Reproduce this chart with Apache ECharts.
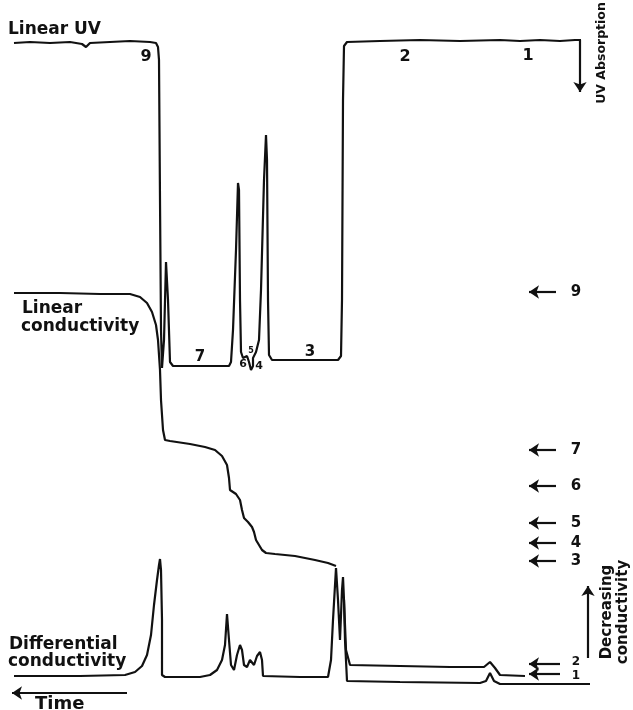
<!DOCTYPE html>
<html>
<head>
<meta charset="utf-8">
<script src="https://cdn.jsdelivr.net/npm/echarts@6/dist/echarts.min.js"></script>
<style>
  html, body { margin: 0; padding: 0; background: #fff; }
  #chart { width: 633px; height: 710px; }
</style>
</head>
<body>
<div id="chart"></div>
<script>
// traces, [time position, signal position]
const uvTrace = [
  [14,43],[30,42],[50,43],[70,42],[82,44],[86,47],[90,43],[110,42],[130,41],[150,42],[156,43],[158,47],
  [159,60],[160,200],[161,330],[162,368],[164,340],[166,262],[167,260],[168,300],[170,362],[173,366],
  [200,366],[229,366],[231,362],[233,330],[236,250],[238,183],[239,190],[240,300],[241,352],[243,358],
  [245,360],[247,356],[249,362],[251,370],[253,366],[253,358],[256,352],[259,340],[261,290],[264,180],
  [266,135],[267,160],[268,300],[269,355],[272,360],[300,360],[338,360],[341,356],[342,300],[343,100],
  [344,46],[347,42],[380,41],[420,40],[460,41],[500,40],[520,41],[540,40],[560,41],[575,40],[581,40]
];
const conductivityTrace = [
  [14,293],[60,293],[100,294],[130,294],[140,297],[147,303],[152,312],[156,325],[158,340],[160,370],
  [161,400],[163,430],[165,440],[170,441],[190,444],[205,447],[215,450],[222,456],[227,465],[229,478],
  [230,490],[232,492],[236,494],[240,500],[242,510],[244,518],[248,522],[252,527],[254,532],[256,540],
  [259,545],[262,550],[266,553],[275,554],[295,556],[315,560],[328,563],[336,566]
];
const differentialTrace = [
  [14,676],[80,676],[125,675],[135,672],[142,666],[147,655],[151,635],[154,605],[157,580],[159,565],
  [160,559],[161,570],[162,620],[162,675],[165,677],[200,677],[210,675],[217,670],[222,660],[225,645],
  [227,614],[229,640],[231,665],[234,670],[237,655],[240,645],[242,650],[244,665],[247,667],[250,660],
  [252,658],[254,665],[257,656],[260,652],[262,660],[263,676],[300,677],[328,677],[331,660],[333,620],
  [336,568],[338,600],[340,640],[342,590],[343,577],[344,600],[345,640],[347,681],[400,682],[480,683],
  [486,681],[490,673],[494,681],[500,684],[560,684],[590,684]
];
const differentialUpper = [
  [344,600],[346,650],[350,665],[400,666],[450,667],[484,667],[490,662],[495,668],[500,675],[525,676]
];

// zone numbers on the UV trace
const zoneLabels = ['9','2','1','7','3','6','5','4'];
const zonePos = [[146,57],[405,57],[528,56],[200,357],[310,352],[243,364],[251,351],[259,366]];
const zoneSize = [16,16,16,15,15,11,8,11];

// conductivity level markers on the right
const levelLabels = ['9','7','6','5','4','3','2','1'];
const levelY = [292,450,486,523,543,561,664,674];

const chart = echarts.init(document.getElementById('chart'));
const ink = '#111';
const font = '"DejaVu Sans", sans-serif';

const traceSeries = (data) => ({
  type: 'line', data: data, showSymbol: false, smooth: false, silent: true,
  lineStyle: { color: ink, width: 2.2 }
});

const arrowData = levelY.map((y, i) => ({ coords: [[i >= 6 ? 560 : 556, y], [529, y]] }));
arrowData.push({ coords: [[580, 40], [580, 92]] });
arrowData.push({ coords: [[588, 658], [588, 586]] });
arrowData.push({ coords: [[127, 693], [12, 693]] });

const textEl = (t, x, y, size, rot, align) => ({
  type: 'text', x: x, y: y, rotation: rot || 0,
  style: {
    text: t, fill: ink, font: 'bold ' + size + 'px ' + font,
    align: align || 'left', verticalAlign: 'middle'
  }
});

const graphics = [
  textEl('Linear UV', 8, 30, 17),
  textEl('Linear', 22, 309, 17),
  textEl('conductivity', 21, 327, 17),
  textEl('Differential', 9, 645, 17),
  textEl('conductivity', 8, 662, 17),
  textEl('Time', 35, 704, 18),
  textEl('UV Absorption', 602, 53, 12.5, Math.PI / 2, 'center'),
  textEl('Decreasing', 607, 612, 15, Math.PI / 2, 'center'),
  textEl('conductivity', 623, 612, 15, Math.PI / 2, 'center')
];
zoneLabels.forEach((t, i) => graphics.push(textEl(t, zonePos[i][0], zonePos[i][1], zoneSize[i], 0, 'center')));
levelLabels.forEach((t, i) => graphics.push(textEl(t, 576, levelY[i] + (i === 6 ? -2 : i === 7 ? 2 : 0), i >= 6 ? 12 : 15, 0, 'center')));

const option = {
  backgroundColor: '#ffffff',
  animation: false,
  grid: { left: 0, right: 0, top: 0, bottom: 0 },
  xAxis: { type: 'value', min: 0, max: 633, show: false },
  yAxis: { type: 'value', min: 0, max: 710, inverse: true, show: false },
  series: [
    traceSeries(uvTrace),
    traceSeries(conductivityTrace),
    traceSeries(differentialTrace),
    traceSeries(differentialUpper),
    {
      type: 'lines', coordinateSystem: 'cartesian2d', silent: true,
      symbol: ['none', 'arrow'], symbolSize: 10,
      lineStyle: { color: ink, width: 2.2, opacity: 1, curveness: 0 },
      data: arrowData
    }
  ],
  graphic: graphics
};

chart.setOption(option);
</script>
</body>
</html>
